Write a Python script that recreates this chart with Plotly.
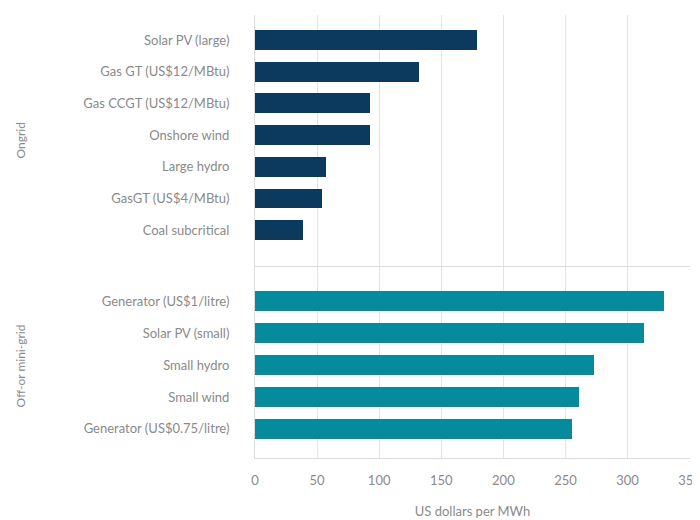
import plotly.graph_objects as go

ongrid_labels = ["Solar PV (large)", "Gas GT (US$12/MBtu)", "Gas CCGT (US$12/MBtu)",
                 "Onshore wind", "Large hydro", "GasGT (US$4/MBtu)", "Coal subcritical"]
ongrid_values = [179, 132, 93, 93, 57, 54, 39]

offgrid_labels = ["Generator (US$1/litre)", "Solar PV (small)", "Small hydro",
                  "Small wind", "Generator (US$0.75/litre)"]
offgrid_values = [329, 313, 273, 261, 255]

x_ticks = [0, 50, 100, 150, 200, 250, 300, 350]

FONT = "Lato"
GRAY = "#8a8a8a"
GRID = "#e3e3e3"

fig = go.Figure()
fig.add_trace(go.Bar(x=ongrid_values, y=ongrid_labels, orientation="h",
                     marker=dict(color="#0c3a5e", line=dict(width=0)),
                     width=0.63, xaxis="x2", yaxis="y2", showlegend=False))
fig.add_trace(go.Bar(x=offgrid_values, y=offgrid_labels, orientation="h",
                     marker=dict(color="#058b9b", line=dict(width=0)),
                     width=0.63, xaxis="x", yaxis="y", showlegend=False))

split = 192 / 443
common_x = dict(range=[0, 350.3], tickvals=x_ticks, showgrid=True, gridcolor=GRID,
                gridwidth=1, zeroline=False, showline=True, linecolor="#dcdcdc",
                linewidth=1, fixedrange=True)
fig.update_layout(
    width=692, height=512,
    margin=dict(l=247, r=10, t=7, b=62, autoexpand=False),
    paper_bgcolor="white", plot_bgcolor="white",
    font=dict(family=FONT, size=13, color=GRAY),
    bargap=0,
    xaxis=dict(**common_x, anchor="y", showticklabels=True, ticklabelstandoff=10,
               ticklabeloverflow="allow",
               tickfont=dict(size=13, color=GRAY),
               title=dict(text="US dollars per MWh", font=dict(size=13, color=GRAY), standoff=20)),
    xaxis2=dict(**common_x, anchor="y2", matches="x", showticklabels=False),
    yaxis=dict(domain=[0, split], type="category", categoryorder="array",
               categoryarray=offgrid_labels, range=[4.91, -1.1],
               showline=True, linecolor="#dcdcdc", showgrid=False, zeroline=False,
               ticks="", ticklabelstandoff=22, tickfont=dict(size=13, color=GRAY)),
    yaxis2=dict(domain=[split, 1], type="category", categoryorder="array",
                categoryarray=ongrid_labels, range=[7.13, -0.79],
                showline=True, linecolor="#dcdcdc", showgrid=False, zeroline=False,
                ticks="", ticklabelstandoff=22, tickfont=dict(size=13, color=GRAY)),
)

fig.add_annotation(text="Ongrid", xref="paper", yref="paper",
                   x=(12 - 247) / 435, y=(split + 1) / 2, xanchor="center", yanchor="middle",
                   textangle=-90, showarrow=False, font=dict(size=12, color=GRAY))
fig.add_annotation(text="Off-or mini-grid", xref="paper", yref="paper",
                   x=(12 - 247) / 435, y=split / 2 - 0.01, xanchor="center", yanchor="middle",
                   textangle=-90, showarrow=False, font=dict(size=12, color=GRAY))

fig.write_html("out.html")
